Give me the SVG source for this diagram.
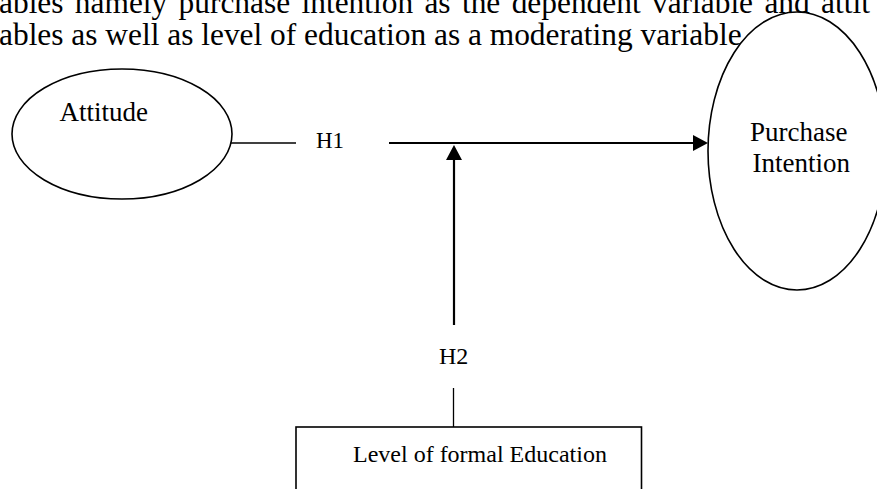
<svg xmlns="http://www.w3.org/2000/svg" width="877" height="489" viewBox="0 0 877 489">
  <style>
    .t { font-family: "Liberation Serif", "Times New Roman", serif; fill: #000; }
    .para { font-size: 31.4px; }
    .lbl { font-size: 24px; }
    .big { font-size: 27px; }
    .node { fill: #fff; stroke: #000; stroke-width: 1.6; }
    .thin { stroke: #000; stroke-width: 1.3; fill: none; }
    .bold { stroke: #000; stroke-width: 2.2; fill: none; }
  </style>
  <defs>
    <marker id="arrow" markerUnits="userSpaceOnUse" markerWidth="15" markerHeight="16" refX="0" refY="8" orient="auto">
      <path d="M0,0 L15,8 L0,16 Z" fill="#000"/>
    </marker>
  </defs>
  <rect width="877" height="489" fill="#fff"/>

  <g id="paragraph">
    <text class="t para" x="-1" y="13" word-spacing="3.5">ables namely purchase intention as the dependent variable and attit</text>
    <text class="t para" x="-1" y="45">ables as well as level of education as a moderating variable</text>
  </g>

  <g id="node-attitude">
    <ellipse class="node" cx="122" cy="134" rx="110" ry="65"/>
    <text class="t big" x="59.5" y="121">Attitude</text>
  </g>

  <g id="node-purchase">
    <ellipse class="node" cx="797" cy="151" rx="89" ry="139"/>
    <text class="t big" x="750" y="141">Purchase</text>
    <text class="t big" x="752.5" y="172">Intention</text>
  </g>

  <g id="node-education">
    <rect class="node" x="296" y="427" width="345.5" height="80" stroke-width="2"/>
    <text class="t lbl" x="353" y="462">Level of formal Education</text>
  </g>

  <g id="connectors">
    <line class="thin" x1="231" y1="143" x2="296" y2="143"/>
    <text class="t lbl" x="316" y="148" style="font-size:23px">H1</text>
    <line class="bold" x1="389" y1="143" x2="693" y2="143" marker-end="url(#arrow)"/>
    <line class="bold" x1="454" y1="325" x2="454" y2="160" marker-end="url(#arrow)"/>
    <text class="t lbl" x="439" y="364">H2</text>
    <line class="thin" x1="453.5" y1="388" x2="453.5" y2="427" stroke-width="1.6"/>
  </g>
</svg>
